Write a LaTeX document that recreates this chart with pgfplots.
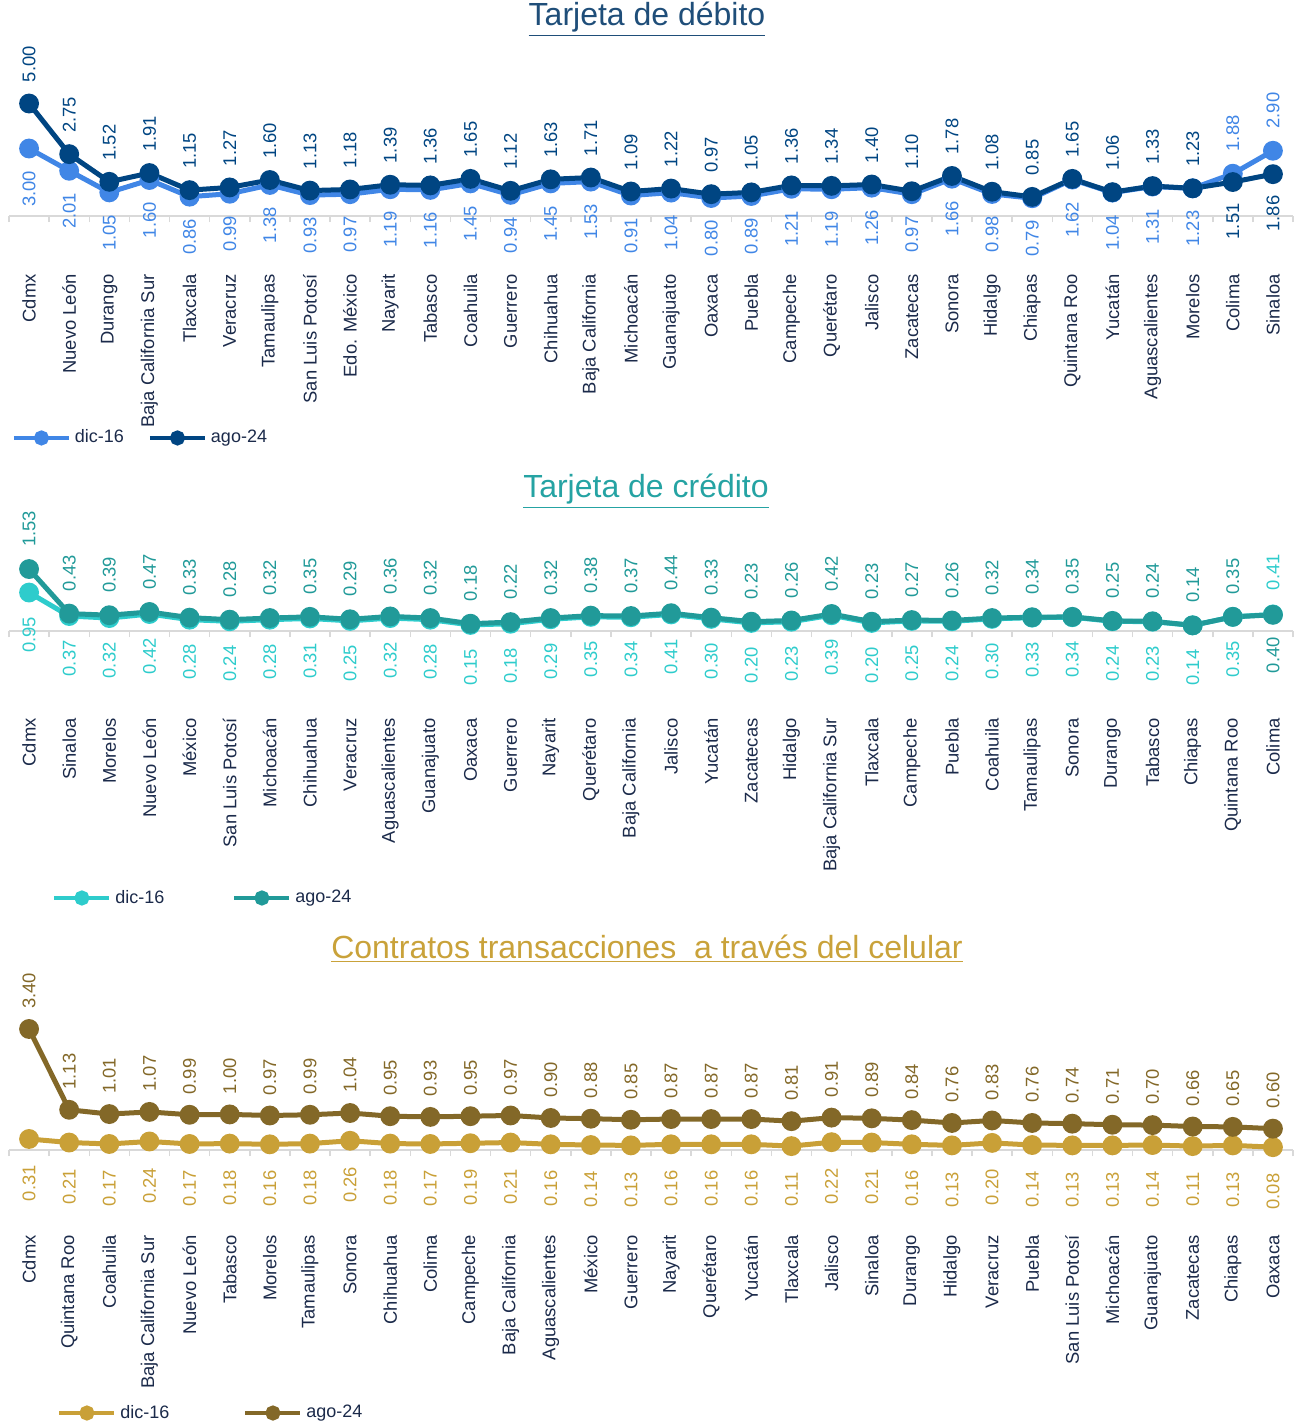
\documentclass[border=0pt]{standalone}
\usepackage{fontspec}
\setmainfont{Liberation Sans}
\usepackage{pgfplots}
\usepackage{pgfplotstable}
\pgfplotsset{compat=1.18}

\definecolor{debA}{HTML}{4086E6}
\definecolor{debB}{HTML}{004582}
\definecolor{debT}{HTML}{1F4E79}
\definecolor{creA}{HTML}{2ECCCC}
\definecolor{creB}{HTML}{219A99}
\definecolor{creT}{HTML}{25A3A3}
\definecolor{celA}{HTML}{C9A037}
\definecolor{celB}{HTML}{836828}
\definecolor{celT}{HTML}{C9A23A}
\definecolor{txt}{HTML}{1B2A4A}
\definecolor{axgray}{HTML}{D9D9D9}

\newcommand\lab{\fontsize{9.2}{11}\selectfont}
\newcommand\leg{\fontsize{9}{11}\selectfont}

% x: position, d: dic-16, a: ago-24
\pgfplotstableread{
x d a
0 3.00 5.00
1 2.01 2.75
2 1.05 1.52
3 1.60 1.91
4 0.86 1.15
5 0.99 1.27
6 1.38 1.60
7 0.93 1.13
8 0.97 1.18
9 1.19 1.39
10 1.16 1.36
11 1.45 1.65
12 0.94 1.12
13 1.45 1.63
14 1.53 1.71
15 0.91 1.09
16 1.04 1.22
17 0.80 0.97
18 0.89 1.05
19 1.21 1.36
20 1.19 1.34
21 1.26 1.40
22 0.97 1.10
23 1.66 1.78
24 0.98 1.08
25 0.79 0.85
26 1.62 1.65
27 1.04 1.06
28 1.31 1.33
29 1.23 1.23
30 1.88 1.51
31 2.90 1.86
}\debito

\pgfplotstableread{
x d a
0 0.95 1.53
1 0.37 0.43
2 0.32 0.39
3 0.42 0.47
4 0.28 0.33
5 0.24 0.28
6 0.28 0.32
7 0.31 0.35
8 0.25 0.29
9 0.32 0.36
10 0.28 0.32
11 0.15 0.18
12 0.18 0.22
13 0.29 0.32
14 0.35 0.38
15 0.34 0.37
16 0.41 0.44
17 0.30 0.33
18 0.20 0.23
19 0.23 0.26
20 0.39 0.42
21 0.20 0.23
22 0.25 0.27
23 0.24 0.26
24 0.30 0.32
25 0.33 0.34
26 0.34 0.35
27 0.24 0.25
28 0.23 0.24
29 0.14 0.14
30 0.35 0.35
31 0.41 0.40
}\credito

\pgfplotstableread{
x d a
0 0.31 3.40
1 0.21 1.13
2 0.17 1.01
3 0.24 1.07
4 0.17 0.99
5 0.18 1.00
6 0.16 0.97
7 0.18 0.99
8 0.26 1.04
9 0.18 0.95
10 0.17 0.93
11 0.19 0.95
12 0.21 0.97
13 0.16 0.90
14 0.14 0.88
15 0.13 0.85
16 0.16 0.87
17 0.16 0.87
18 0.16 0.87
19 0.11 0.81
20 0.22 0.91
21 0.21 0.89
22 0.16 0.84
23 0.13 0.76
24 0.20 0.83
25 0.14 0.76
26 0.13 0.74
27 0.13 0.71
28 0.14 0.70
29 0.11 0.66
30 0.13 0.65
31 0.08 0.60
}\celular

\pgfplotsset{
  panel/.style={
    scale only axis, width=642pt, anchor=south west, clip=false,
    xmin=-0.5, xmax=31.5, ymin=0,
    axis x line*=bottom, axis y line=none,
    xtick={0,...,31}, minor xtick={-0.5,0.5,...,31.5},
    major tick length=0pt, minor tick length=3pt, tick align=outside,
    tick style={axgray, line width=0.75pt},
    axis line style={axgray, line width=0.75pt},
    /pgf/number format/assume math mode=true,
    legend columns=2,
    legend style={draw=none, fill=none, anchor=west, font=\leg, text=txt, inner sep=0pt,
      nodes={inner xsep=2pt, inner ysep=1pt}},
    legend image code/.code={\draw[line width=2pt] (0pt,0pt) -- (27.5pt,0pt);
      \fill (13.75pt,0pt) circle (2.5pt);},
  },
  labs/.style={xticklabel style={yshift=-#1, rotate=90, anchor=east, inner sep=0pt, font=\lab, text=txt}},
  ser/.style={color=#1, line width=2.5pt, mark=*, mark size=3.7pt, mark options={solid}},
  % value labels: #1 side (west = above, east = below), #2 gap, #3 colour
  vals/.style n args={3}{
    draw=none, mark=none, forget plot,
    nodes near coords={\pgfmathprintnumber[fixed,fixed zerofill,precision=2]{\pgfplotspointmeta}},
    point meta=y,
    every node near coord/.append style={rotate=90, anchor=#1, inner xsep=#2, inner ysep=0pt,
      font=\lab, text=#3}},
}

\begin{document}
\begin{tikzpicture}
\path[use as bounding box] (0pt,0pt) rectangle (649.5pt,-713pt);

% ---- Tarjeta de debito
\node[font=\fontsize{16}{19}\selectfont, text=debT] at (323.5pt,-9.5pt) {\underline{Tarjeta de débito}};
\begin{axis}[panel, labs=29pt, at={(4.5pt,-108pt)}, height=67.5pt, ymax=6,
  xticklabels={Cdmx, Nuevo León, Durango, Baja California Sur, Tlaxcala, Veracruz, Tamaulipas,
    San Luis Potosí, Edo. México, Nayarit, Tabasco, Coahuila, Guerrero, Chihuahua, Baja California,
    Michoacán, Guanajuato, Oaxaca, Puebla, Campeche, Querétaro, Jalisco, Zacatecas, Sonora, Hidalgo,
    Chiapas, Quintana Roo, Yucatán, Aguascalientes, Morelos, Colima, Sinaloa},
  legend style={at={(0.002,-1.644)}},
  legend style={/tikz/every even column/.append style={column sep=10pt}}]
\addplot[ser=debA] table[x=x, y=d] {\debito};
\addlegendentry{dic-16}
\addplot[ser=debB] table[x=x, y=a] {\debito};
\addlegendentry{ago-24}
\addplot[vals={east}{11pt}{debA}, skip coords between index={30}{32}] table[x=x, y=d] {\debito};
\addplot[vals={west}{11pt}{debA}, skip coords between index={0}{30}] table[x=x, y=d] {\debito};
\addplot[vals={west}{10.5pt}{debB}, skip coords between index={30}{32}] table[x=x, y=a] {\debito};
\addplot[vals={east}{10.5pt}{debB}, skip coords between index={0}{30}] table[x=x, y=a] {\debito};
\end{axis}

% ---- Tarjeta de credito
\node[font=\fontsize{16}{19}\selectfont, text=creT] at (323pt,-245.5pt) {\underline{Tarjeta de crédito}};
\begin{axis}[panel, labs=43.5pt, at={(4.5pt,-315.5pt)}, height=40.5pt, ymax=2,
  xticklabels={Cdmx, Sinaloa, Morelos, Nuevo León, México, San Luis Potosí, Michoacán, Chihuahua,
    Veracruz, Aguascalientes, Guanajuato, Oaxaca, Guerrero, Nayarit, Querétaro, Baja California,
    Jalisco, Yucatán, Zacatecas, Hidalgo, Baja California Sur, Tlaxcala, Campeche, Puebla, Coahuila,
    Tamaulipas, Sonora, Durango, Tabasco, Chiapas, Quintana Roo, Colima},
  legend style={at={(0.0335,-3.296)}},
  legend style={/tikz/every even column/.append style={column sep=32pt}}]
\addplot[ser=creA] table[x=x, y=d] {\credito};
\addlegendentry{dic-16}
\addplot[ser=creB] table[x=x, y=a] {\credito};
\addlegendentry{ago-24}
\addplot[vals={east}{12pt}{creA}, skip coords between index={31}{32}] table[x=x, y=d] {\credito};
\addplot[vals={west}{12pt}{creA}, skip coords between index={0}{31}] table[x=x, y=d] {\credito};
\addplot[vals={west}{11pt}{creB}, skip coords between index={31}{32}] table[x=x, y=a] {\credito};
\addplot[vals={east}{11pt}{creB}, skip coords between index={0}{31}] table[x=x, y=a] {\credito};
\end{axis}

% ---- Contratos transacciones a traves del celular
\node[font=\fontsize{16}{19}\selectfont, text=celT] at (323.5pt,-474.5pt) {\underline{Contratos transacciones \ a través del celular}};
\begin{axis}[panel, labs=42.5pt, at={(4.5pt,-575pt)}, height=71.2pt, ymax=4,
  xticklabels={Cdmx, Quintana Roo, Coahuila, Baja California Sur, Nuevo León, Tabasco, Morelos,
    Tamaulipas, Sonora, Chihuahua, Colima, Campeche, Baja California, Aguascalientes, México,
    Guerrero, Nayarit, Querétaro, Yucatán, Tlaxcala, Jalisco, Sinaloa, Durango, Hidalgo, Veracruz,
    Puebla, San Luis Potosí, Michoacán, Guanajuato, Zacatecas, Chiapas, Oaxaca},
  legend style={at={(0.0374,-1.847)}},
  legend style={/tikz/every even column/.append style={column sep=35pt}}]
\addplot[ser=celA] table[x=x, y=d] {\celular};
\addlegendentry{dic-16}
\addplot[ser=celB] table[x=x, y=a] {\celular};
\addlegendentry{ago-24}
\addplot[vals={east}{13pt}{celA}] table[x=x, y=d] {\celular};
\addplot[vals={west}{10pt}{celB}] table[x=x, y=a] {\celular};
\end{axis}
\end{tikzpicture}
\end{document}
